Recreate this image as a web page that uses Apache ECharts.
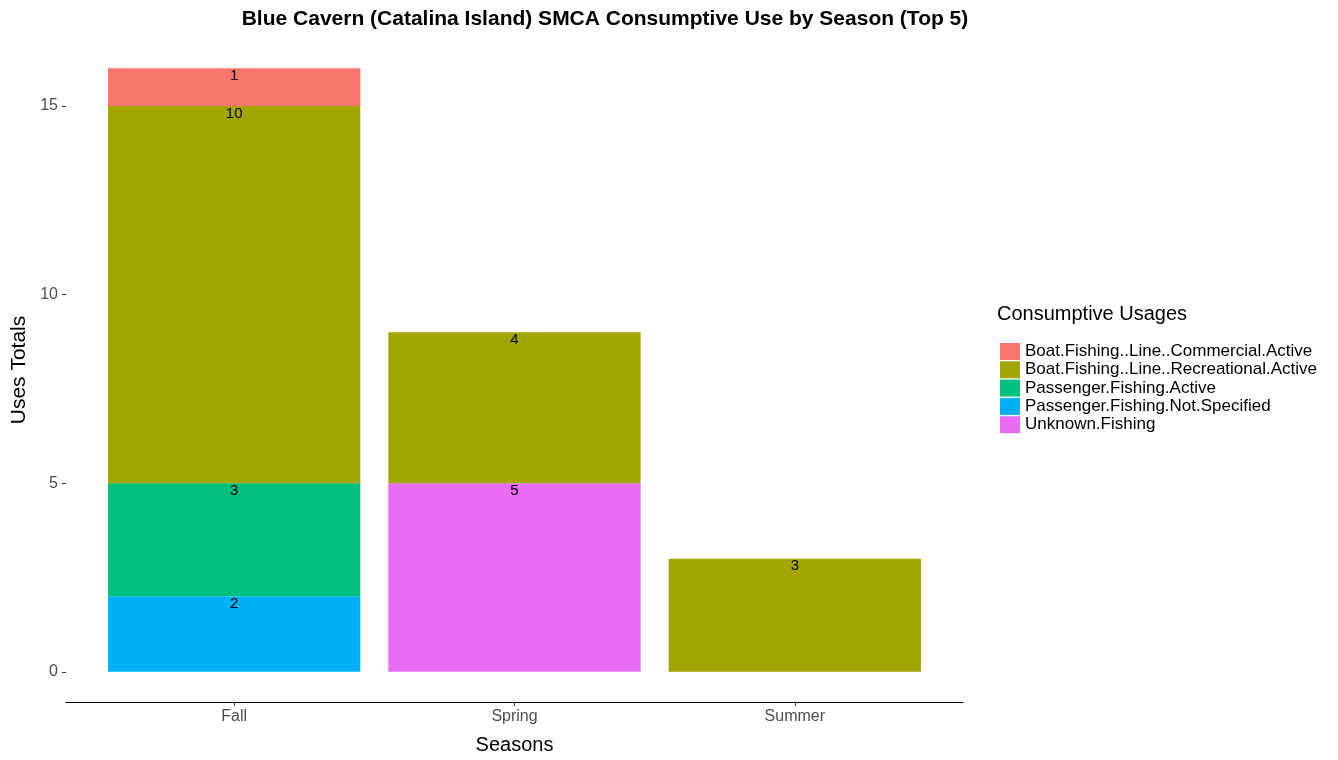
<!DOCTYPE html>
<html>
<head>
<meta charset="utf-8">
<script src="https://cdn.jsdelivr.net/npm/echarts@6/dist/echarts.min.js"></script>
<style>html,body{margin:0;padding:0;background:#fff;}#c{width:1338px;height:760px;}</style>
</head>
<body>
<div id="c"></div>
<script>
const seasons = ['Fall', 'Spring', 'Summer'];
const seasonPos = [1, 2, 3];
const yTicks = [0, 5, 10, 15];
// stacked bottom to top
const unknownFishing = [null, 5, null];
const passengerNotSpecified = [2, null, null];
const passengerActive = [3, null, null];
const boatRecreational = [10, 4, 3];
const boatCommercial = [1, null, null];

const seriesDefs = [
  { name: 'Unknown.Fishing', data: unknownFishing, color: '#E76BF3' },
  { name: 'Passenger.Fishing.Not.Specified', data: passengerNotSpecified, color: '#00B0F6' },
  { name: 'Passenger.Fishing.Active', data: passengerActive, color: '#00BF7D' },
  { name: 'Boat.Fishing..Line..Recreational.Active', data: boatRecreational, color: '#A3A500' },
  { name: 'Boat.Fishing..Line..Commercial.Active', data: boatCommercial, color: '#F8766D' }
];
const legendOrder = [
  'Boat.Fishing..Line..Commercial.Active',
  'Boat.Fishing..Line..Recreational.Active',
  'Passenger.Fishing.Active',
  'Passenger.Fishing.Not.Specified',
  'Unknown.Fishing'
];

const chart = echarts.init(document.getElementById('c'));
const font = 'Liberation Sans, Arial, sans-serif';
const yMin = -0.8, yMax = 16.8;
chart.setOption({
  animation: false,
  textStyle: { fontFamily: font },
  title: {
    text: 'Blue Cavern (Catalina Island) SMCA Consumptive Use by Season (Top 5)',
    left: 605, top: 9, padding: 0, textAlign: 'center',
    textStyle: { fontSize: 21, fontWeight: 'bold', color: '#000', fontFamily: font }
  },
  grid: [
    { left: 66, right: 375, top: 38, bottom: 58 },
    { left: 94, right: 403, top: 38, bottom: 58 }
  ],
  legend: {
    orient: 'vertical', left: 995, top: 338,
    itemWidth: 20, itemHeight: 17, itemGap: 1.3,
    icon: 'rect',
    data: legendOrder,
    textStyle: { fontSize: 17, lineHeight: 17, color: '#000' }
  },
  graphic: [{
    type: 'text', left: 997, top: 304,
    style: { text: 'Consumptive Usages', fontSize: 20, fill: '#000', fontFamily: font }
  }],
  xAxis: [{
    gridIndex: 0, type: 'value', min: 0.4, max: 3.6,
    name: 'Seasons', nameLocation: 'middle', nameGap: 33,
    nameTextStyle: { fontSize: 20, color: '#000' },
    axisLine: { onZero: false, lineStyle: { color: '#000', width: 1.2 } },
    axisTick: { show: true, length: 4, customValues: seasonPos, lineStyle: { color: '#333' } },
    axisLabel: {
      customValues: seasonPos, fontSize: 16, color: '#4d4d4d', margin: 7,
      formatter: v => seasons[Math.round(v) - 1] || ''
    },
    splitLine: { show: false }
  }, {
    gridIndex: 1, type: 'category', data: seasons,
    show: false
  }],
  yAxis: [{
    gridIndex: 0, type: 'value', min: yMin, max: yMax,
    name: 'Uses Totals', nameLocation: 'middle', nameGap: 35,
    nameTextStyle: { fontSize: 21, color: '#000' },
    axisLine: { show: false },
    axisTick: { show: true, length: 4, customValues: yTicks, lineStyle: { color: '#333' } },
    axisLabel: { customValues: yTicks, fontSize: 16, color: '#4d4d4d', margin: 8 },
    splitLine: { show: false }
  }, {
    gridIndex: 1, type: 'value', min: yMin, max: yMax, show: false,
    splitLine: { show: false }
  }],
  series: seriesDefs.map(s => ({
    name: s.name, type: 'bar', stack: 'total', barWidth: '90%',
    xAxisIndex: 1, yAxisIndex: 1,
    itemStyle: { color: s.color },
    label: {
      show: true, position: 'insideTop', distance: 0,
      color: '#000', fontSize: 15
    },
    data: s.data.map(v => v == null ? '-' : v)
  }))
});
</script>
</body>
</html>
